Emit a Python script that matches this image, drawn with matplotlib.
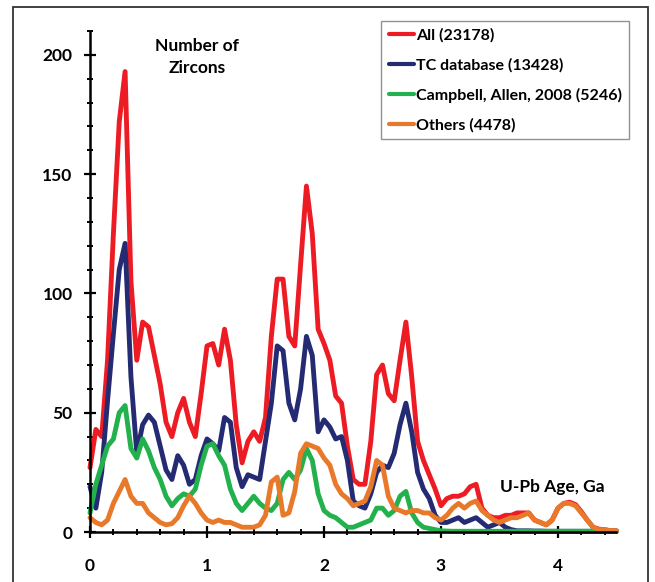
import numpy as np
import matplotlib
matplotlib.use("Agg")
import matplotlib.pyplot as plt
from matplotlib.ticker import MultipleLocator
from matplotlib.patches import Rectangle

# U-Pb age grid (Ga)
age = [round(0.05 * i, 2) for i in range(91)]

all_zircons = [27, 43, 40, 72, 125, 172, 193, 105, 72, 88,
               86, 74, 62, 46, 40, 50, 56, 46, 40, 58,
               78, 79, 70, 85, 72, 45, 29, 38, 42, 38,
               48, 82, 106, 106, 82, 78, 112, 145, 125, 85,
               79, 72, 57, 54, 36, 22, 20, 20, 38, 66,
               70, 58, 55, 72, 88, 65, 38, 30, 24, 18,
               11, 14, 15, 15, 16, 19, 20, 10, 7, 6,
               6, 7, 7, 8, 8, 8, 5, 4, 3, 5,
               10, 12, 12.5, 11.5, 8.5, 5, 2, 1.2, 1, 0.5, 0.5]

tc_database = [19, 10, 25, 55, 83, 110, 121, 65, 33, 45,
               49, 46, 36, 26, 22, 32, 28, 20, 22, 32,
               39, 37, 34, 48, 46, 27, 19, 24, 23, 22,
               38, 54, 78, 76, 54, 47, 60, 82, 74, 42,
               47, 44, 39, 40, 30, 13, 11, 10, 16, 25,
               28, 27, 33, 45, 54, 42, 25, 18, 14, 7,
               4, 4, 5, 6, 4, 5, 6, 4, 2, 3,
               4, 2, 1, 0.5, 0.5, 0.5, 0.4, 0.4, 0.3, 0.3,
               0.3, 0.3, 0.3, 0.3, 0.3, 0.3, 0.3, 0.3, 0.3, 0.3, 0.3]

campbell_allen = [8, 20, 28, 36, 39, 50, 53, 35, 31, 39,
                  34, 27, 22, 15, 11, 14, 16, 15, 18, 28,
                  36, 37, 32, 28, 18, 12, 9, 12, 15, 12,
                  10, 9, 12, 22, 25, 22, 26, 35, 30, 16,
                  9, 7, 6, 4, 2, 2, 3, 4, 5, 10,
                  10, 7, 9, 15, 17, 8, 4, 2, 1.5, 1,
                  0.5, 0.4, 0.3, 0.3, 0.3, 0.3, 0.3, 0.3, 0.3, 0.3,
                  0.3, 0.3, 0.3, 0.3, 0.3, 0.3, 0.3, 0.3, 0.3, 0.3,
                  0.3, 0.3, 0.3, 0.3, 0.3, 0.3, 0.3, 0.3, 0.3, 0.3, 0.3]

others = [6, 4, 3, 5, 12, 17, 22, 15, 12, 12,
          8, 6, 4, 3, 3.5, 6, 11, 15, 12, 8,
          5, 4, 5, 4, 4, 3, 2, 2, 2, 3,
          7, 21, 23, 7, 8, 17, 33, 37, 36, 35,
          31, 28, 20, 16, 14, 11, 12, 13, 19, 30,
          28, 15, 10, 9, 8, 9, 9, 8, 8, 6,
          5, 7, 10, 12, 10, 12, 13, 9, 7, 5,
          4, 5, 6, 6, 7, 8, 5, 4, 3, 5,
          10, 12, 12, 11, 8, 5, 2, 1, 1, 0.5, 0.5]

series_labels = ["All (23178)", "TC database (13428)",
                 "Campbell, Allen, 2008 (5246)", "Others (4478)"]
series_colors = ["#ED1C24", "#252B73", "#22B14C", "#E9792A"]
x_ticks = [0, 1, 2, 3, 4]
y_ticks = [0, 50, 100, 150, 200]

FONT = ["Lato", "DejaVu Sans"]
plt.rcParams["font.family"] = FONT
plt.rcParams["font.weight"] = "bold"

fig = plt.figure(figsize=(6.55, 5.82), dpi=100)
ax = fig.add_axes([0.1374, 0.0859, 0.8038, 0.8608])

for ys, lab, col in zip([all_zircons, tc_database, campbell_allen, others],
                        series_labels, series_colors):
    ax.plot(age, ys, color=col, lw=3.5, label=lab, clip_on=False,
            solid_joinstyle="round", solid_capstyle="round")

ax.set_xlim(0, 4.5)
ax.set_ylim(0, 210)
ax.set_xticks(x_ticks)
ax.set_yticks(y_ticks)
ax.xaxis.set_minor_locator(MultipleLocator(0.2))
ax.yaxis.set_minor_locator(MultipleLocator(10))
ax.tick_params(which="major", direction="inout", length=9, width=1.6,
               labelsize=12.5, color="black")
ax.tick_params(which="minor", direction="inout", length=5, width=1.4,
               color="black")
ax.tick_params(axis="y", which="major", pad=8)
ax.tick_params(axis="x", which="major", pad=14)
for lbl in ax.get_xticklabels() + ax.get_yticklabels():
    lbl.set_fontweight("bold")

for s in ["top", "right"]:
    ax.spines[s].set_visible(False)
for s in ["left", "bottom"]:
    ax.spines[s].set_linewidth(1.8)
    ax.spines[s].set_color("black")

ax.text(197 / 655, 1 - 57 / 582, "Number of\nZircons", transform=fig.transFigure,
        ha="center", va="center", fontsize=12.5, fontweight="bold",
        linespacing=1.4)
ax.text(552 / 655, 1 - 487 / 582, "U-Pb Age, Ga", transform=fig.transFigure,
        ha="center", va="center", fontsize=12.5, fontweight="bold")

leg = ax.legend(loc="upper right", bbox_to_anchor=(629 / 655, 1 - 21 / 582),
                bbox_transform=fig.transFigure, borderaxespad=0,
                fancybox=False, frameon=True, handlelength=1.6,
                handletextpad=0.1, labelspacing=0.95, borderpad=0.45,
                prop={"family": FONT, "weight": "bold", "size": 11.5})
leg.get_frame().set_edgecolor("#777777")
leg.get_frame().set_linewidth(1.0)
for ln in leg.get_lines():
    ln.set_linewidth(3)

fig.patches.append(Rectangle((13 / 655, -0.05), (648 - 13) / 655, 1.05 - 7 / 582,
                             transform=fig.transFigure, fill=False,
                             edgecolor="#333333", linewidth=1.3))

fig.savefig("out.png", dpi=100)
